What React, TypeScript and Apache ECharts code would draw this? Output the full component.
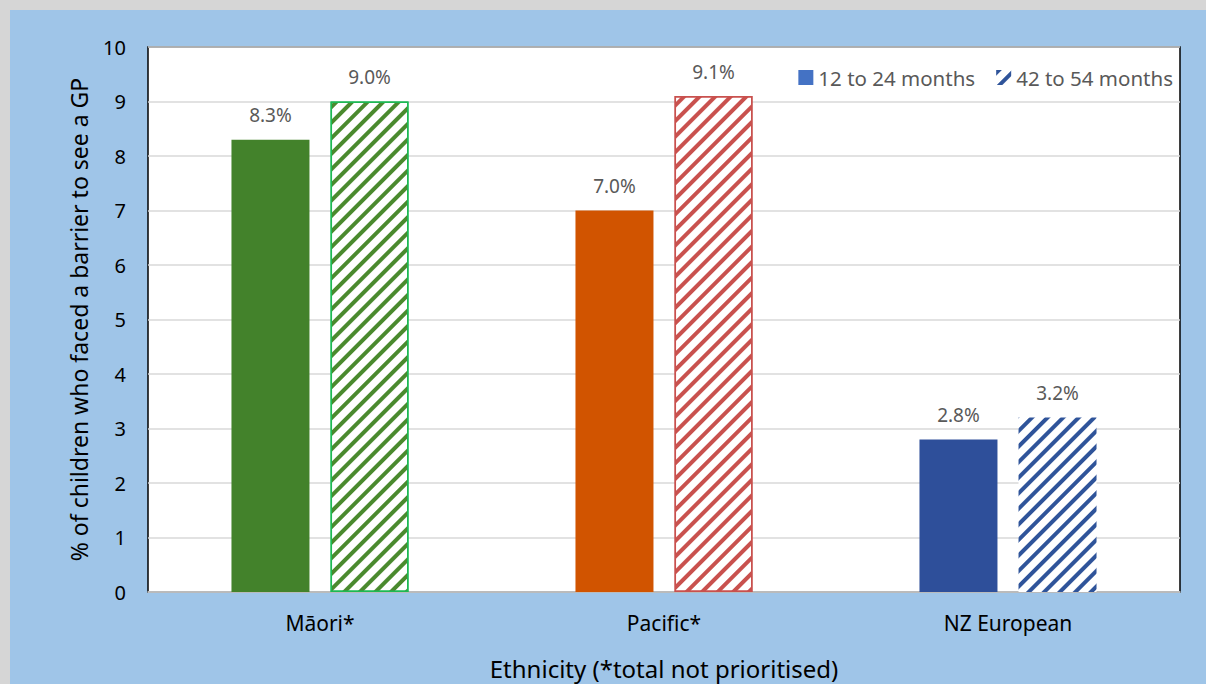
import React, { useEffect, useRef } from "react";
import * as echarts from "echarts";

const categories = ["Māori*", "Pacific*", "NZ European"];
const earlyValues = [8.3, 7.0, 2.8];
const laterValues = [9.0, 9.1, 3.2];
const yTicks = [0, 10, 1];
const seriesNames = ["12 to 24 months", "42 to 54 months"];

const solidColors = ["#43822B", "#D15400", "#2E4F9A"];
const hatchColors = ["#4A8A2E", "#C9514E", "#2F549A"];
const hatchBorders = ["#1DB954", "#C9514E", "transparent"];

const FONT = "Noto Sans";

function hatch(color: string) {
  return {
    symbol: "rect",
    symbolSize: 1,
    color,
    backgroundColor: "#ffffff",
    dashArrayX: [1, 0],
    dashArrayY: [3.5, 7],
    rotation: -Math.PI / 4,
  };
}

export default function App() {
  const ref = useRef<HTMLDivElement>(null);

  useEffect(() => {
    if (!ref.current) return;
    document.documentElement.style.overflow = "hidden";
    document.body.style.margin = "0";
    const chart = echarts.init(ref.current, undefined, { renderer: "svg" });
    const labelStyle = {
      show: true,
      position: "top" as const,
      distance: 15,
      color: "#595959",
      fontFamily: FONT,
      fontSize: 19,
      formatter: (p: any) => Number(p.value).toFixed(1) + "%",
    };
    chart.setOption({
      animation: false,
      backgroundColor: "#9FC5E8",
      graphic: [
        {
          type: "rect",
          z: -20,
          silent: true,
          shape: { x: 0, y: 0, width: 1206, height: 684 },
          style: { fill: "#9FC5E8" },
        },
        {
          type: "rect",
          z: -10,
          silent: true,
          shape: { x: 0, y: 0, width: 1206, height: 10 },
          style: { fill: "#D6D6D6" },
        },
        {
          type: "rect",
          z: -10,
          silent: true,
          shape: { x: 0, y: 0, width: 10, height: 684 },
          style: { fill: "#D6D6D6" },
        },
      ],
      grid: {
        left: 148,
        right: 26,
        top: 47,
        bottom: 92,
        outerBoundsMode: "none",
        containLabel: false,
        show: true,
        backgroundColor: "#ffffff",
        borderColor: "#000000",
        borderWidth: 1.5,
      },
      legend: {
        top: 62,
        right: 28,
        itemWidth: 15,
        itemHeight: 15,
        itemGap: 21,
        icon: "rect",
        textStyle: { color: "#595959", fontFamily: FONT, fontSize: 20.5 },
        data: seriesNames,
      },
      xAxis: {
        type: "category",
        data: categories,
        name: "Ethnicity (*total not prioritised)",
        nameLocation: "middle",
        nameGap: 64,
        nameTextStyle: { color: "#000000", fontFamily: FONT, fontSize: 24 },
        axisLine: { lineStyle: { color: "#BFBFBF", width: 1.5 } },
        axisTick: { show: false },
        axisLabel: { color: "#000000", fontFamily: FONT, fontSize: 21, margin: 20 },
      },
      yAxis: {
        type: "value",
        min: yTicks[0],
        max: yTicks[1],
        interval: yTicks[2],
        name: "% of children who faced a barrier to see a GP",
        nameLocation: "middle",
        nameGap: 58,
        nameTextStyle: { color: "#000000", fontFamily: FONT, fontSize: 23 },
        axisLine: { show: false },
        axisTick: { show: false },
        splitLine: { lineStyle: { color: "#D9D9D9", width: 1.5 } },
        axisLabel: { color: "#000000", fontFamily: FONT, fontSize: 20, margin: 22 },
      },
      series: [
        {
          name: seriesNames[0],
          type: "bar",
          barWidth: 78,
          barGap: "27%",
          itemStyle: { color: "#4472C4" },
          label: labelStyle,
          data: earlyValues.map((v, i) => ({
            value: v,
            itemStyle: { color: solidColors[i] },
          })),
        },
        {
          name: seriesNames[1],
          type: "bar",
          barWidth: 78,
          itemStyle: { color: "#ffffff", decal: hatch("#2F549A") },
          label: labelStyle,
          data: laterValues.map((v, i) => ({
            value: v,
            itemStyle: {
              color: "#ffffff",
              decal: hatch(hatchColors[i]),
              borderColor: hatchBorders[i],
              borderWidth: hatchBorders[i] === "transparent" ? 0 : 1.5,
            },
          })),
        },
      ],
    });
    return () => chart.dispose();
  }, []);

  return (
    <div
      ref={ref}
      style={{ position: "fixed", left: 0, top: 0, width: 1206, height: 684 }}
    />
  );
}
